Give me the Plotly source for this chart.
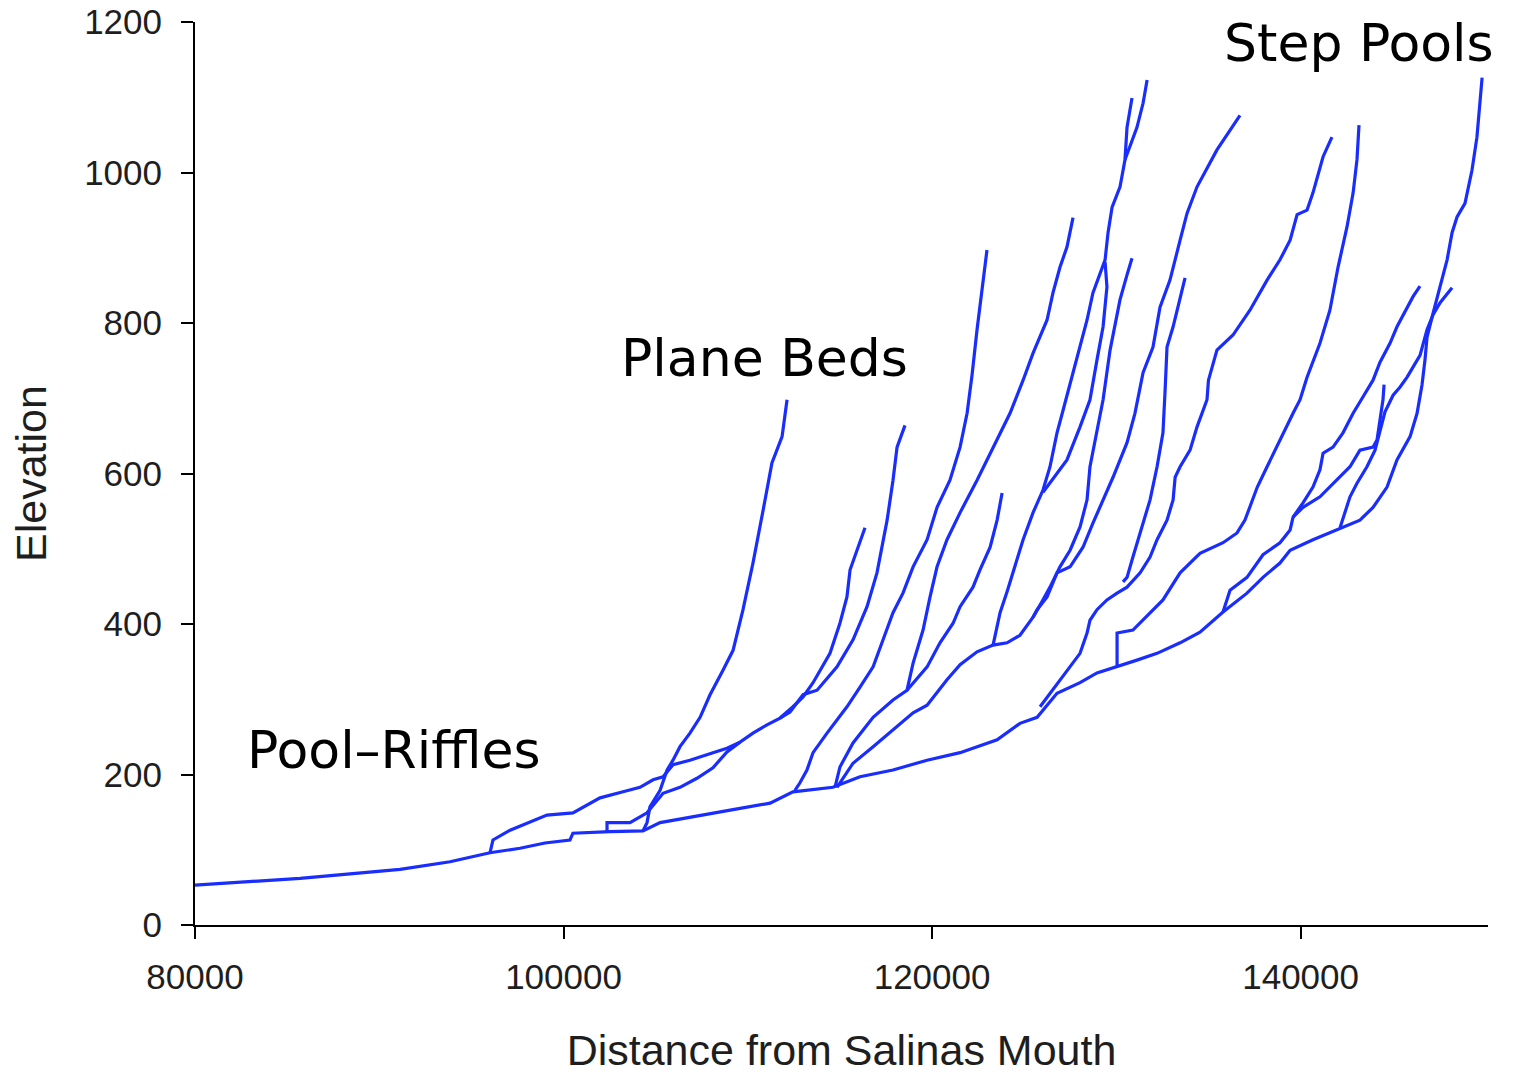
import plotly.graph_objects as go

# Longitudinal stream profiles: distance upstream from the Salinas mouth (m) vs elevation (m)

# Main stem, running all the way up into the step-pool headwaters
main_stem_x = [80000, 82990, 85700, 88410, 91130, 93840, 96010, 97640, 98990, 100350,
               100510, 102520, 104310, 105240, 107410, 109580, 111210, 112450, 114620, 116090,
               117880, 119730, 121520, 123530, 124770, 125700, 126780, 128030, 128950, 130040,
               131120, 132210, 133460, 134540, 135790, 137090, 137960, 138880, 139430, 140670,
               141980, 143220, 143930, 144690, 145230, 145940, 146320, 146590, 146750, 146860,
               147190, 147570, 147950, 148220, 148490, 148920, 149300, 149570, 149740, 149850]
main_stem_y = [53, 58, 62, 68, 74, 84, 96, 102, 109, 113,
               122, 124, 125, 136, 146, 155, 162, 177, 183, 197,
               206, 219, 229, 246, 268, 276, 308, 322, 335, 343,
               352, 361, 375, 389, 416, 441, 462, 481, 498, 512,
               525, 538, 555, 582, 618, 649, 680, 718, 751, 781,
               813, 848, 884, 920, 941, 959, 1003, 1047, 1092, 1126]

# Tributaries (each listed from its confluence upstream)
trib_a_x = [96010, 96170, 97100, 99100, 100510, 101980, 103230, 104150, 104860, 105400,
            105940, 106860, 108110, 108870, 109580, 110280, 111040, 111750, 112450, 113000,
            113540, 114460, 115000, 115380, 115550, 116090, 116360]
trib_a_y = [96, 113, 126, 146, 149, 169, 177, 183, 193, 197,
            213, 219, 229, 235, 243, 255, 266, 275, 290, 303,
            322, 361, 401, 436, 472, 508, 528]

trib_b_x = [111750, 112290, 113000, 113760, 114840, 115710, 116470, 117010, 117560, 117880,
            118100, 118530]
trib_b_y = [275, 283, 306, 312, 343, 379, 423, 468, 538, 591, 635, 664]

trib_c_x = [104310, 104530, 104690, 105240, 105620, 105940, 106320, 106860, 107410, 107950,
            108660, 109200, 109740, 110280, 110830, 111310, 111860, 112130]
trib_c_y = [125, 136, 157, 179, 206, 219, 237, 255, 276, 306,
            339, 365, 419, 481, 551, 614, 649, 698]

trib_d_x = [102360, 102360, 103610, 104530, 105400, 106320, 107240, 108110, 108870, 109580]
trib_d_y = [124, 136, 136, 149, 175, 183, 195, 209, 230, 243]

trib_e_x = [112560, 112830, 113210, 113540, 114300, 115380, 116090, 116800, 117340, 117880,
            118420, 118970, 119730, 120270, 120970, 121520, 121900, 122170, 122440, 122710,
            122980]
trib_e_y = [179, 189, 206, 229, 255, 290, 316, 343, 379, 415,
            441, 476, 512, 555, 591, 635, 680, 731, 791, 844,
            897]

trib_f_x = [114730, 115000, 115710, 116800, 117880, 118640, 118970, 119510, 119890, 120270,
            120810, 121520, 122440, 123310, 124230, 124940, 125480, 126240, 126560, 126940,
            127320, 127650]
trib_f_y = [183, 210, 242, 276, 299, 312, 348, 392, 436, 476,
            512, 548, 591, 635, 680, 724, 760, 804, 840, 874,
            901, 940]

trib_g_x = [118640, 119000, 119730, 120430, 121140, 121520, 122220, 122600, 123150, 123530,
            123800]
trib_g_y = [312, 322, 343, 375, 401, 423, 449, 472, 502, 538, 574]

trib_h_x = [114840, 115710, 116800, 117880, 118970, 119730, 120810, 121520, 122440, 123310,
            124070, 124770, 125480, 126020, 126400, 126940, 127490, 128030, 128410, 128570,
            128950, 129280, 129660, 130200, 130580, 130850]
trib_h_y = [183, 215, 237, 259, 282, 292, 326, 346, 363, 372,
            375, 385, 409, 432, 449, 476, 498, 529, 565, 609,
            654, 698, 764, 831, 864, 886]

trib_i_x = [123310, 123690, 124070, 124390, 124940, 125480, 126020, 126400, 126780, 127110,
            127650, 128030, 128410, 128730, 129110, 129390, 129550, 129770, 130200, 130470,
            130580, 130850]
trib_i_y = [372, 415, 443, 468, 512, 548, 578, 609, 654, 684,
            734, 768, 804, 840, 866, 884, 920, 954, 981, 1017,
            1060, 1099]

trib_j_x = [130470, 130740, 131120, 131450, 131670]
trib_j_y = [1017, 1034, 1060, 1092, 1123]

trib_k_x = [126020, 127320, 128030, 128570, 128950, 129280, 129490, 129390]
trib_k_y = [575, 618, 662, 698, 751, 795, 848, 881]

trib_l_x = [125480, 125700, 126240, 126780, 127490, 128190, 128730, 129280, 129820, 130580,
            131010, 131450, 131990, 132370, 132910, 133460, 133840, 134380, 135460, 136710]
trib_l_y = [409, 419, 436, 468, 476, 502, 534, 565, 595, 641,
            680, 734, 768, 821, 857, 910, 946, 981, 1030, 1076]

trib_m_x = [130360, 130580, 130900, 131290, 131830, 132210, 132530, 132640, 132750, 133080,
            133460, 133730]
trib_m_y = [456, 462, 489, 521, 565, 609, 654, 707, 768, 795, 831, 860]

trib_n_x = [125860, 126400, 126940, 127490, 128030, 128410, 128570, 128950, 129490, 130040,
            130580, 131290, 131830, 132210, 132750, 133080, 133190, 133460, 134000, 134380,
            134920, 135000, 135460, 136330, 137250, 138180, 138880, 139430, 139810, 140350,
            140670, 141220, 141700]
trib_n_y = [290, 308, 326, 343, 361, 388, 405, 419, 432, 441,
            449, 468, 489, 512, 538, 565, 595, 609, 631, 662,
            698, 724, 764, 784, 817, 857, 884, 910, 944, 950,
            973, 1021, 1047]

trib_o_x = [130040, 130040, 130900, 132000, 132530, 133460, 134540, 135790, 136550, 136980,
            137250, 137650, 138180, 138880, 139590, 139970, 140350, 141050, 141590, 142030,
            142520, 142850, 143060, 143170]
trib_o_y = [343, 388, 392, 419, 432, 468, 494, 508, 521, 538,
            555, 582, 609, 645, 680, 698, 728, 773, 817, 874,
            928, 973, 1017, 1063]

trib_p_x = [135790, 136170, 137090, 137960, 138880, 139430, 139590, 140130, 140670, 141050,
            141220, 141760, 142300, 142850, 143390, 143930, 144310, 144850, 145230, 145780,
            146100, 146480]
trib_p_y = [416, 445, 462, 492, 508, 525, 542, 561, 582, 605,
            627, 635, 654, 680, 702, 724, 748, 773, 795, 821,
            835, 849]

trib_q_x = [139590, 140130, 141050, 141980, 142680, 143220, 143930, 144150, 144310, 144470,
            144530]
trib_q_y = [542, 555, 569, 591, 609, 631, 635, 645, 671, 698, 718]

trib_r_x = [142140, 142410, 142680, 143060, 143600, 144040, 144310, 144580, 145020, 145400,
            145780, 146480, 146860, 147190, 147570, 148220]
trib_r_y = [528, 549, 569, 587, 609, 631, 658, 682, 704, 715,
            728, 757, 791, 811, 827, 847]

x_ticks = [80000, 100000, 120000, 140000]
y_ticks = [0, 200, 400, 600, 800, 1000, 1200]

profiles = [
    (main_stem_x, main_stem_y),
    (trib_a_x, trib_a_y), (trib_b_x, trib_b_y), (trib_c_x, trib_c_y),
    (trib_d_x, trib_d_y), (trib_e_x, trib_e_y), (trib_f_x, trib_f_y),
    (trib_g_x, trib_g_y), (trib_h_x, trib_h_y), (trib_i_x, trib_i_y),
    (trib_j_x, trib_j_y), (trib_k_x, trib_k_y), (trib_l_x, trib_l_y),
    (trib_m_x, trib_m_y), (trib_n_x, trib_n_y), (trib_o_x, trib_o_y),
    (trib_p_x, trib_p_y), (trib_q_x, trib_q_y), (trib_r_x, trib_r_y),
]

LINE_BLUE = "rgb(25,45,255)"
TICK_FONT = dict(family="Liberation Sans, Arial, sans-serif", size=35, color="#1e1e1e")
TITLE_FONT = dict(family="Liberation Sans, Arial, sans-serif", size=43, color="#1e1e1e")
LABEL_FONT = dict(family="DejaVu Sans, sans-serif", size=52, color="black")

fig = go.Figure()
for xs, ys in profiles:
    fig.add_trace(go.Scatter(
        x=xs, y=ys, mode="lines",
        line=dict(color=LINE_BLUE, width=3.2),
        showlegend=False, hoverinfo="skip",
    ))

# Channel-type labels
for text, x, y in [("Pool\u2013Riffles", 82700, 233),
                   ("Plane Beds", 103000, 753),
                   ("Step Pools", 135750, 1172)]:
    fig.add_annotation(x=x, y=y, xref="x", yref="y", text=text, showarrow=False,
                       xanchor="left", yanchor="middle", font=LABEL_FONT)

fig.update_layout(
    width=1514, height=1074,
    margin=dict(l=195, r=26, t=22, b=149, autoexpand=False),
    paper_bgcolor="white", plot_bgcolor="white",
)
fig.update_xaxes(
    range=[80000, 150170], tickvals=x_ticks, ticktext=[str(v) for v in x_ticks],
    showline=True, linecolor="black", linewidth=2, mirror=False,
    ticks="outside", ticklen=12, tickwidth=2, tickcolor="black",
    showgrid=False, zeroline=False, tickfont=TICK_FONT, ticklabelstandoff=8,
    automargin=False,
    title=dict(text="Distance from Salinas Mouth", font=TITLE_FONT, standoff=46),
)
fig.update_yaxes(
    range=[0, 1200], tickvals=y_ticks, ticktext=[str(v) for v in y_ticks],
    showline=True, linecolor="black", linewidth=2, mirror=False,
    ticks="outside", ticklen=12, tickwidth=2, tickcolor="black",
    showgrid=False, zeroline=False, tickfont=TICK_FONT, ticklabelstandoff=12,
    automargin=False,
    title=dict(text="Elevation", font=TITLE_FONT, standoff=24),
)

fig.write_html("out.html")
